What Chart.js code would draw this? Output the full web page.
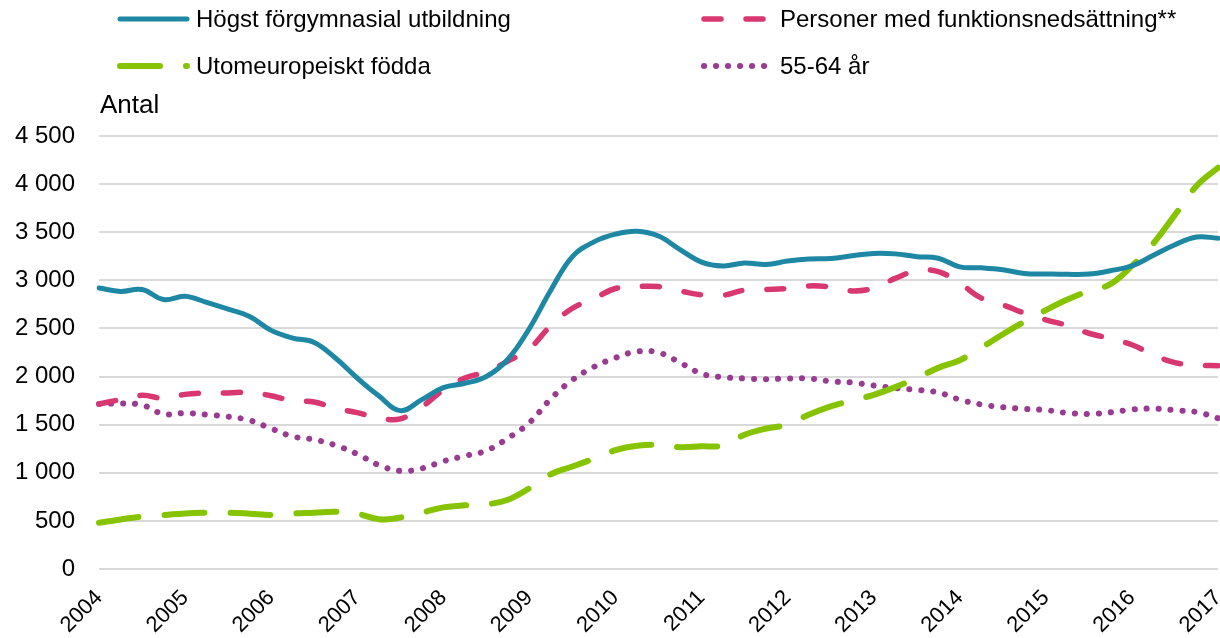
<!DOCTYPE html>
<html>
<head>
<meta charset="utf-8">
<script src="https://cdn.jsdelivr.net/npm/chart.js@4"></script>
<style>
  html, body { margin: 0; padding: 0; background: #fff; }
  #wrap { width: 1220px; height: 638px; }
</style>
</head>
<body>
<div id="wrap"><canvas id="chart"></canvas></div>
<script>
// kvartal 2004 K1 .. 2017 K1
const years = [2004, 2005, 2006, 2007, 2008, 2009, 2010, 2011, 2012, 2013, 2014, 2015, 2016, 2017];
const quarters = [];
years.forEach((y) => {
  for (let q = 1; q <= 4; q++) {
    if (y === 2017 && q > 1) break;
    quarters.push(y + " K" + q);
  }
});

const forgymnasial = [
  2920, 2885, 2905, 2800, 2835, 2770, 2700, 2625, 2480, 2400, 2355, 2190, 1985,
  1800, 1646, 1760, 1885, 1930, 2000, 2180, 2500, 2900, 3247, 3400, 3480, 3510,
  3460, 3320, 3190, 3150, 3180, 3165, 3200, 3222, 3228, 3255, 3280, 3275, 3246,
  3230, 3140, 3130, 3110, 3072, 3066, 3062, 3065, 3100, 3150, 3260, 3370, 3450, 3437
];
const funktionsnedsattning = [
  1715, 1760, 1805, 1775, 1815, 1830, 1830, 1835, 1800, 1750, 1735, 1670, 1625,
  1570, 1560, 1685, 1860, 1985, 2050, 2160, 2290, 2530, 2710, 2810, 2915, 2935,
  2935, 2890, 2850, 2845, 2898, 2905, 2915, 2942, 2930, 2890, 2920, 3020, 3100,
  3090, 2970, 2815, 2745, 2660, 2590, 2530, 2450, 2395, 2330, 2225, 2145, 2120, 2113
];
const utomeuropeiskt = [
  481, 515, 545, 560, 578, 585, 585, 575, 562, 577, 585, 595, 575,
  517, 535, 585, 640, 662, 672, 720, 839, 985, 1065, 1148, 1235, 1280,
  1290, 1265, 1275, 1285, 1395, 1460, 1500, 1605, 1690, 1750, 1810, 1890, 1985,
  2090, 2170, 2300, 2440, 2570, 2690, 2800, 2890, 2960, 3150, 3385, 3680, 3980, 4170
];
const aldre55_64 = [
  1715, 1720, 1705, 1610, 1620, 1605, 1583, 1545, 1460, 1378, 1345, 1285, 1195,
  1080, 1019, 1045, 1120, 1175, 1230, 1360, 1520, 1770, 1965, 2100, 2195, 2260,
  2250, 2145, 2030, 1993, 1980, 1972, 1980, 1980, 1950, 1938, 1906, 1880, 1862,
  1835, 1760, 1710, 1681, 1664, 1652, 1622, 1611, 1628, 1657, 1667, 1650, 1632, 1567
];

const FONT = "'Liberation Sans', Arial, sans-serif";

const fmt = (v) => String(v).replace(/\B(?=(\d{3})+(?!\d))/g, " ");

// legend 2x2 + "Antal" drawn on canvas
const legendPlugin = {
  id: "legend2x2",
  afterDraw(chart) {
    const ctx = chart.ctx;
    const slots = [
      { x: 120, y: 19 },
      { x: 704, y: 19 },
      { x: 120, y: 66 },
      { x: 704, y: 66 },
    ];
    ctx.save();
    chart.data.datasets.forEach((ds, i) => {
      const s = slots[i];
      ctx.beginPath();
      ctx.strokeStyle = ds.borderColor;
      ctx.lineWidth = ds.borderWidth;
      ctx.lineCap = ds.borderCapStyle || "butt";
      ctx.setLineDash(ds.borderDash || []);
      ctx.moveTo(s.x, s.y);
      ctx.lineTo(s.x + 67, s.y);
      ctx.stroke();
      ctx.setLineDash([]);
      ctx.fillStyle = "#000";
      ctx.font = "24px " + FONT;
      ctx.textBaseline = "middle";
      ctx.textAlign = "left";
      ctx.fillText(ds.label, s.x + 76, s.y + 1);
    });
    ctx.font = "26px " + FONT;
    ctx.fillText("Antal", 100, 106);
    ctx.restore();
  },
};

new Chart(document.getElementById("chart"), {
  type: "line",
  data: {
    labels: quarters,
    datasets: [
      {
        label: "Högst förgymnasial utbildning",
        data: forgymnasial,
        borderColor: "#1d87a4",
        borderWidth: 5,
        borderCapStyle: "round",
      },
      {
        label: "Personer med funktionsnedsättning**",
        data: funktionsnedsattning,
        borderColor: "#d8376f",
        borderWidth: 5.5,
        borderDash: [17, 25],
        borderCapStyle: "round",
      },
      {
        label: "Utomeuropeiskt födda",
        data: utomeuropeiskt,
        borderColor: "#86c300",
        borderWidth: 6,
        borderDash: [40, 26],
        borderCapStyle: "round",
      },
      {
        label: "55-64 år",
        data: aldre55_64,
        borderColor: "#983b91",
        borderWidth: 6,
        borderDash: [0.1, 11.9],
        borderCapStyle: "round",
      },
    ],
  },
  options: {
    responsive: true,
    maintainAspectRatio: false,
    animation: false,
    layout: { padding: { top: 136, left: 0, right: 2, bottom: 0 } },
    elements: {
      point: { radius: 0 },
      line: { tension: 0.4, fill: false },
    },
    plugins: {
      legend: { display: false },
      tooltip: { enabled: false },
    },
    scales: {
      x: {
        grid: { display: false },
        border: { display: false },
        afterFit: (s) => {
          s.height = 69;
          s.paddingLeft = 0;
          s.paddingRight = 0;
        },
        ticks: {
          autoSkip: false,
          maxRotation: 45,
          minRotation: 45,
          padding: 8,
          color: "#000",
          font: { family: FONT, size: 22 },
          callback: function (val, i) {
            return i % 4 === 0 ? years[i / 4] : null;
          },
        },
      },
      y: {
        min: 0,
        max: 4500,
        afterFit: (s) => { s.width = 99; },
        border: { display: false },
        grid: { color: "#d9d9d9", lineWidth: 2, drawTicks: false },
        ticks: {
          stepSize: 500,
          padding: 24,
          color: "#000",
          font: { family: FONT, size: 24 },
          callback: (v) => fmt(v),
        },
      },
    },
  },
  plugins: [legendPlugin],
});
</script>
</body>
</html>
